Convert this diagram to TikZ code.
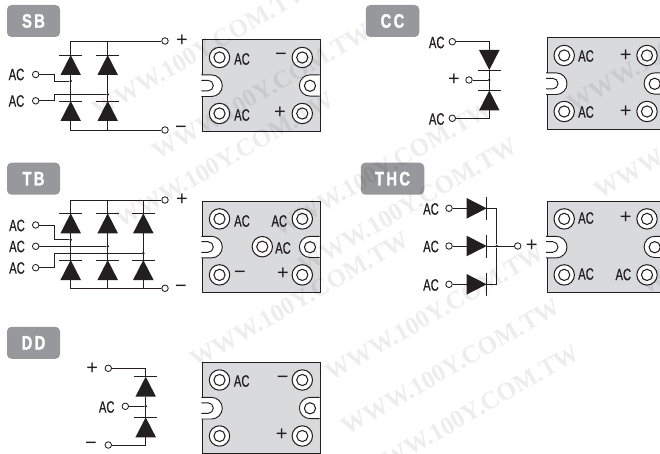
\documentclass[tikz,border=0pt]{standalone}
\usepackage{fontspec}
\setmainfont{Liberation Sans}[FakeStretch=0.68,FakeBold=0.6]
\newfontfamily\tagfont{Liberation Sans Bold}[FakeStretch=0.76,LetterSpace=12,FakeBold=1.2]
\newfontfamily\signfont{Liberation Sans}
\newfontfamily\wmfont{Liberation Serif}
\usetikzlibrary{shapes.geometric}
\definecolor{tagrey}{HTML}{97989B}
\definecolor{panelgrey}{HTML}{D9DADB}
\definecolor{inkgrey}{HTML}{231F20}
\tikzset{
    wire/.style={draw=inkgrey,line width=.95pt},
    tag/.style={rounded corners=4.5pt,fill=tagrey,text=white,minimum height=32pt,inner sep=0pt,font=\tagfont\fontsize{19.5}{19.5}\selectfont},
    lab/.style={inner sep=0pt,text=inkgrey,font=\fontsize{16.5}{16.5}\selectfont},
    sign/.style={inner sep=0pt,text=inkgrey,font=\signfont\fontsize{20}{20}\selectfont},
    term/.style={circle,draw=inkgrey,line width=.85pt,fill=white,minimum size=6.5pt,inner sep=0pt},
    dot/.style={circle,fill=inkgrey,minimum size=2.8pt,inner sep=0pt},
    diode/.style={isosceles triangle,isosceles triangle stretches,fill=inkgrey,minimum width=20.5pt,minimum height=20pt,inner sep=0pt,outer sep=0pt,anchor=apex},
    dioup/.style={diode,shape border rotate=90,append after command={([xshift=-11.5pt]\tikzlastnode.apex) edge[wire] ([xshift=11.5pt]\tikzlastnode.apex)}},
    diodn/.style={diode,shape border rotate=-90,append after command={([xshift=-11.5pt]\tikzlastnode.apex) edge[wire] ([xshift=11.5pt]\tikzlastnode.apex)}},
    diort/.style={diode,append after command={([yshift=-11.5pt]\tikzlastnode.apex) edge[wire] ([yshift=11.5pt]\tikzlastnode.apex)}},
    panel/.style={draw=inkgrey,line width=1pt,fill=panelgrey,minimum width=118pt,minimum height=91.3pt,inner sep=0pt,anchor=north west},
    screw/.style={circle,draw=inkgrey,line width=1.05pt,fill=white,minimum size=20.4pt,inner sep=0pt,path picture={\draw[inkgrey,line width=1.05pt] (path picture bounding box.center) circle (5.6pt);}},
    notch/.style={draw=inkgrey,line width=.95pt,fill=white},
    wmark/.style={rotate=30,opacity=.07,text=black,inner sep=0pt,font=\wmfont\fontsize{25}{25}\selectfont\bfseries}
}
\begin{document}
\begin{tikzpicture}[x=1pt,y=-1pt]
    \useasboundingbox (0,0) rectangle (660,454);
    \clip (0,0) rectangle (660,454);
    %---
    \fill[white] (0,0) rectangle (660,454);
    \foreach \n/\x/\y in {sb/202/39.5,cc/546.7/37.5,tb/202/200.9,thc/546.7/200.9,dd/202/362} {
        \node[panel] (p-\n) at (\x,\y) {};
        \draw[notch] (\x-.6,\y+35.4) -- ++(10.1,0) arc[start angle=90,end angle=-90,radius=10.8pt] -- ++(-10.1,0);
        \draw[notch] (\x-.6,\y+40.8) -- ++(6.6,0) arc[start angle=90,end angle=-90,radius=5.3pt] -- ++(-6.6,0);
        \draw[notch] (\x+117.5,\y+35.4) -- ++(-9.5,0) arc[start angle=90,end angle=270,radius=10.6pt] -- ++(9.5,0);
        \node[circle,draw=inkgrey,line width=1.05pt,minimum size=11.2pt,inner sep=0pt] (p-\n-hole) at (\x+108,\y+46.3) {};
        \node[screw] (p-\n-s1) at (\x+17.5,\y+18) {};
        \node[screw] (p-\n-s2) at (\x+100.3,\y+18) {};
        \node[screw] (p-\n-s3) at (\x+17.5,\y+74) {};
        \node[screw] (p-\n-s4) at (\x+100.3,\y+74) {};
    }
    \node[screw] (p-tb-s5) at (262.3,246.7) {};

    %---
    \node[tag,minimum width=53pt] (t-sb) at (33.5,21) {SB};
    \node[tag,minimum width=53.5pt] (t-cc) at (392.5,21) {CC};
    \node[tag,minimum width=53pt] (t-tb) at (33.5,178.7) {TB};
    \node[tag,minimum width=63.5pt] (t-thc) at (392.5,178.7) {THC};
    \node[tag,minimum width=53pt] (t-dd) at (33.5,342.8) {DD};

    %--- SB
    \node[lab] at (242,59) {AC};
    \node[sign] at (281,56.5) {\char"2212};
    \node[lab] at (242,115) {AC};
    \node[sign] at (280,113) {+};

    \node[lab] (sb-l1) at (16.5,74.5) {AC};
    \node[lab] (sb-l2) at (16.5,101) {AC};
    \node[term] (sb-ac1) at (35.7,74.5) {};
    \node[term] (sb-ac2) at (35.7,100.8) {};
    \node[term] (sb-p) at (165,41) {};
    \node[term] (sb-n) at (165,130) {};
    \node[sign] (sb-pl) at (182,41) {+};
    \node[sign] (sb-nl) at (181,130) {\char"2212};
    \node[dioup] (sb-d1) at (70.7,55) {};
    \node[dioup] (sb-d2) at (107.7,55) {};
    \node[dioup] (sb-d3) at (70.7,101) {};
    \node[dioup] (sb-d4) at (107.7,101) {};
    \node[dot] (sb-j1) at (70.7,81) {};
    \node[dot] (sb-j2) at (107.7,94.5) {};
    \begin{scope}[every path/.style={wire}]
        \draw (sb-p) -| (sb-d1.apex);
        \draw (sb-p) -| (sb-d2.apex);
        \draw (sb-n) -| (sb-d3.lower side);
        \draw (sb-n) -| (sb-d4.lower side);
        \draw (sb-d1.lower side) -- (sb-d3.apex);
        \draw (sb-d2.lower side) -- (sb-d4.apex);
        \draw (sb-ac1) -- ++(19,0) |- (sb-j1);
        \draw (sb-ac2) -- ++(19,0) |- (sb-j2);
    \end{scope}

    %--- CC
    \node[lab] at (586,56) {AC};
    \node[sign] at (625.7,55.5) {+};
    \node[lab] at (586,112) {AC};
    \node[sign] at (625.7,111.5) {+};

    \node[lab] (cc-l1) at (436.7,42.5) {AC};
    \node[lab] (cc-l2) at (436.7,119) {AC};
    \node[sign] (cc-pl) at (454,80) {+};
    \node[term] (cc-ac1) at (452.3,41.7) {};
    \node[term] (cc-ac2) at (452.3,118.3) {};
    \node[term] (cc-p) at (469,80) {};
    \node[diodn] (cc-d1) at (489.3,70) {};
    \node[dioup] (cc-d2) at (489.3,90.5) {};
    \node[dot] (cc-j1) at (489.3,80) {};
    \begin{scope}[every path/.style={wire}]
        \draw (cc-ac1) -| (cc-d1.lower side);
        \draw (cc-ac2) -| (cc-d2.lower side);
        \draw (cc-d1.apex) -- (cc-d2.apex);
        \draw (cc-p) -- (cc-j1);
    \end{scope}

    %--- TB
    \node[lab] at (242,221) {AC};
    \node[lab] at (279.3,221) {AC};
    \node[lab] at (283,248) {AC};
    \node[sign] at (240,274.5) {\char"2212};
    \node[sign] at (283,274) {+};

    \node[lab] (tb-l1) at (17,225.5) {AC};
    \node[lab] (tb-l2) at (17,246.5) {AC};
    \node[lab] (tb-l3) at (17,268) {AC};
    \node[term] (tb-ac1) at (35.7,225) {};
    \node[term] (tb-ac2) at (35.7,246.3) {};
    \node[term] (tb-ac3) at (35.7,267.7) {};
    \node[term] (tb-p) at (165,200) {};
    \node[term] (tb-n) at (165,288.3) {};
    \node[sign] (tb-pl) at (182,200) {+};
    \node[sign] (tb-nl) at (181,288.5) {\char"2212};
    \foreach \i/\x in {1/70.7,2/107.7,3/143.3} {
        \node[dioup] (tb-d\i) at (\x,213.3) {};
        \node[dioup] (tb-e\i) at (\x,260) {};
    }
    \node[dot] (tb-j1) at (70.7,239.7) {};
    \node[dot] (tb-j2) at (107.7,246.3) {};
    \node[dot] (tb-j3) at (143.3,253.3) {};
    \begin{scope}[every path/.style={wire}]
        \foreach \i in {1,2,3} {
            \draw (tb-p) -| (tb-d\i.apex);
            \draw (tb-n) -| (tb-e\i.lower side);
            \draw (tb-d\i.lower side) -- (tb-e\i.apex);
        }
        \draw (tb-ac1) -- ++(19,0) |- (tb-j1);
        \draw (tb-ac2) -- (tb-j2);
        \draw (tb-ac3) -- ++(19,0) |- (tb-j3);
    \end{scope}

    %--- THC
    \node[lab] at (586,218) {AC};
    \node[sign] at (625.7,217.5) {+};
    \node[lab] at (586,274) {AC};
    \node[lab] at (623.3,274.5) {AC};

    \node[lab] (thc-l1) at (431,209) {AC};
    \node[lab] (thc-l2) at (431,246.5) {AC};
    \node[lab] (thc-l3) at (431,285) {AC};
    \node[term] (thc-ac1) at (449,208.3) {};
    \node[term] (thc-ac2) at (449,246) {};
    \node[term] (thc-ac3) at (449,284.3) {};
    \node[term] (thc-p) at (517.7,246) {};
    \node[sign] (thc-pl) at (531.7,246) {+};
    \node[diort] (thc-d1) at (486.7,208.3) {};
    \node[diort] (thc-d2) at (486.7,246) {};
    \node[diort] (thc-d3) at (486.7,284.3) {};
    \node[dot] (thc-j1) at (496.7,246) {};
    \begin{scope}[every path/.style={wire}]
        \draw (thc-ac1) -- (thc-d1.lower side);
        \draw (thc-ac2) -- (thc-d2.lower side);
        \draw (thc-ac3) -- (thc-d3.lower side);
        \draw (thc-d1.apex) -| (thc-j1);
        \draw (thc-d3.apex) -| (thc-j1);
        \draw (thc-d2.apex) -- (thc-p);
    \end{scope}

    %--- DD
    \node[lab] at (241.7,381) {AC};
    \node[sign] at (282.7,379.5) {\char"2212};
    \node[sign] at (281.7,435) {+};

    \node[sign] (dd-pl) at (92.3,368.3) {+};
    \node[sign] (dd-nl) at (91,445.5) {\char"2212};
    \node[lab] (dd-l1) at (106.7,407) {AC};
    \node[term] (dd-p) at (108.3,368.3) {};
    \node[term] (dd-ac) at (125.3,406.3) {};
    \node[term] (dd-n) at (108.3,445) {};
    \node[dioup] (dd-d1) at (145.7,376.7) {};
    \node[dioup] (dd-d2) at (145.7,417.3) {};
    \node[dot] (dd-j1) at (145.7,406.3) {};
    \begin{scope}[every path/.style={wire}]
        \draw (dd-p) -| (dd-d1.apex);
        \draw (dd-n) -| (dd-d2.lower side);
        \draw (dd-d1.lower side) -- (dd-d2.apex);
        \draw (dd-ac) -- (dd-j1);
    \end{scope}

    %--- watermark
    \foreach \i/\x/\y in {1/202/50,2/262/92,3/225/160,4/383/169,5/408/206,6/300/300,7/435/313,8/451/367,9/470/413,10/677/44,11/704/131,12/750/227} {
        \node[wmark] (wm\i) at (\x,\y) {WWW.100Y.COM.TW};
    }
\end{tikzpicture}
\end{document}
